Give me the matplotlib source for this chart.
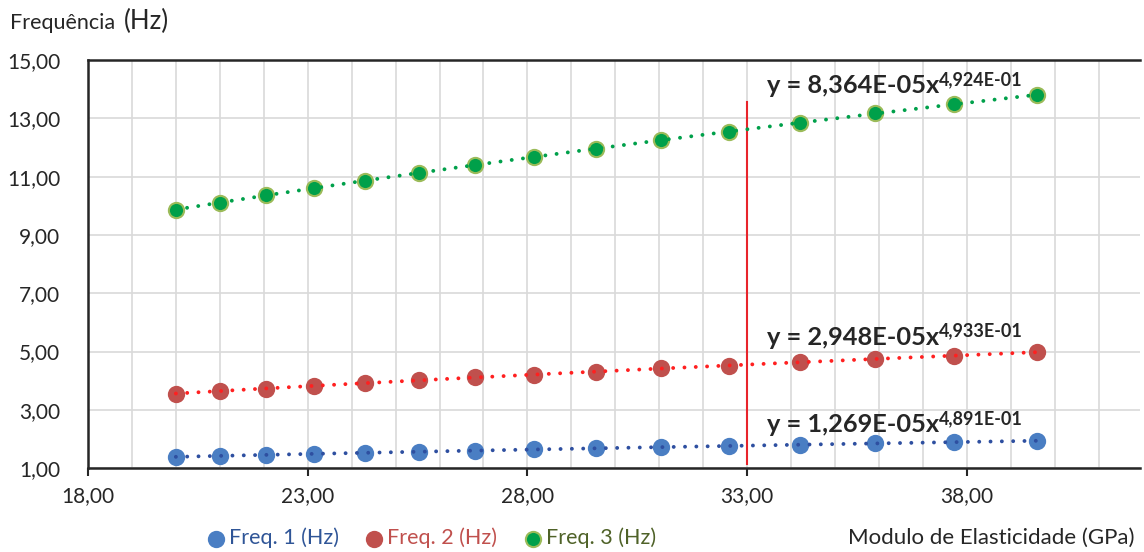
import numpy as np
import matplotlib
matplotlib.use("Agg")
import matplotlib.pyplot as plt
from matplotlib.ticker import FixedLocator, FuncFormatter

plt.rcParams['font.family'] = ['Lato', 'DejaVu Sans']

# data
modulo = [20.00, 21.00, 22.05, 23.15, 24.31, 25.53, 26.80, 28.14,
          29.55, 31.03, 32.58, 34.21, 35.92, 37.71, 39.60]
freq1 = [1.39, 1.42, 1.45, 1.49, 1.53, 1.56, 1.60, 1.64,
         1.68, 1.72, 1.76, 1.80, 1.85, 1.89, 1.94]
freq2 = [3.56, 3.65, 3.73, 3.82, 3.92, 4.01, 4.11, 4.21,
         4.31, 4.42, 4.52, 4.63, 4.75, 4.86, 4.98]
freq3 = [9.87, 10.11, 10.36, 10.61, 10.87, 11.13, 11.40, 11.68,
         11.96, 12.25, 12.55, 12.85, 13.17, 13.49, 13.81]
equacoes = [("y = 1,269E-05x", "4,891E-01"),
            ("y = 2,948E-05x", "4,933E-01"),
            ("y = 8,364E-05x", "4,924E-01")]
xticks = [18, 23, 28, 33, 38]
yticks = [1, 3, 5, 7, 9, 11, 13, 15]
marca_x = 33.0

series = [
    (freq1, "Freq. 1 (Hz)", "#4a7ec3", "#4a7ec3", "#2e4fa0", "#2f5597"),
    (freq2, "Freq. 2 (Hz)", "#c0504d", "#c0504d", "#ff2020", "#c0504d"),
    (freq3, "Freq. 3 (Hz)", "#00a04a", "#9bbb59", "#00a04a", "#4f6228"),
]
eq_pos = [(33.45, 2.1), (33.45, 5.1), (33.45, 13.72)]

fig = plt.figure(figsize=(11.44, 5.52), dpi=100)
ax = fig.add_axes([0.0769, 0.152, 0.92, 0.739])

x = np.array(modulo)
handles = []
for (ys, label, face, edge, trend, tcol), (ex, ey), (eq, sup) in zip(series, eq_pos, equacoes):
    h = ax.scatter(x, ys, s=120, color=face, edgecolors=edge, linewidths=1.5,
                   zorder=3, label=label)
    handles.append(h)
    # power trendline
    b, a = np.polyfit(np.log(x), np.log(ys), 1)
    xf = np.linspace(x.min(), x.max(), 200)
    ax.plot(xf, np.exp(a) * xf ** b, color=trend, lw=2.8,
            linestyle=(0, (0.01, 2.9)), dash_capstyle='round', zorder=4)
    t = ax.text(ex, ey, eq, fontsize=18.3, fontweight='bold', color='#262626',
                ha='left', va='bottom', zorder=5)
    ax.annotate(sup, xy=(1, 0.4), xycoords=t, fontsize=13, fontweight='bold',
                color='#262626', ha='left', va='bottom')

ax.plot([marca_x, marca_x], [1.15, 13.55], color='#e8242b', lw=1.5, zorder=2)

ax.set_xlim(18, 41.95)
ax.set_ylim(1, 15)
ax.xaxis.set_major_locator(FixedLocator(xticks))
ax.xaxis.set_minor_locator(FixedLocator(np.arange(18, 42)))
ax.yaxis.set_major_locator(FixedLocator(yticks))
fmt = FuncFormatter(lambda v, p: f"{v:.2f}".replace('.', ','))
ax.xaxis.set_major_formatter(fmt)
ax.yaxis.set_major_formatter(fmt)
ax.grid(which='both', axis='x', color='#d9d9d9', lw=1.2, zorder=0)
ax.grid(which='major', axis='y', color='#d9d9d9', lw=1.2, zorder=0)
ax.set_axisbelow(True)
for s in ['left', 'bottom', 'top']:
    ax.spines[s].set_linewidth(1.8)
    ax.spines[s].set_color('#262626')
ax.spines['right'].set_visible(False)
ax.tick_params(axis='x', which='major', length=6, width=1.5, color='#262626',
               labelsize=15, labelcolor='#262626', pad=7)
ax.tick_params(axis='x', which='minor', length=0)
ax.tick_params(axis='y', length=0, labelsize=15, labelcolor='#262626', pad=20)

fig.text(0.009, 0.958, "Frequência", fontsize=15.5, color='#262626', va='center')
fig.text(0.108, 0.962, "(Hz)", fontsize=18.5, color='#262626', va='center')
fig.text(0.992, 0.025, "Modulo de Elasticidade (GPa)", fontsize=16,
         color='#262626', ha='right', va='center')

leg = fig.legend(handles=handles, loc='center left', bbox_to_anchor=(0.170, 0.025),
                 ncol=3, frameon=False, fontsize=15.5, handlelength=1.0,
                 handletextpad=0.1, columnspacing=1.15, markerscale=1.0,
                 borderpad=0)
for txt, sr in zip(leg.get_texts(), series):
    txt.set_color(sr[5])

fig.savefig("out.png", dpi=100)
